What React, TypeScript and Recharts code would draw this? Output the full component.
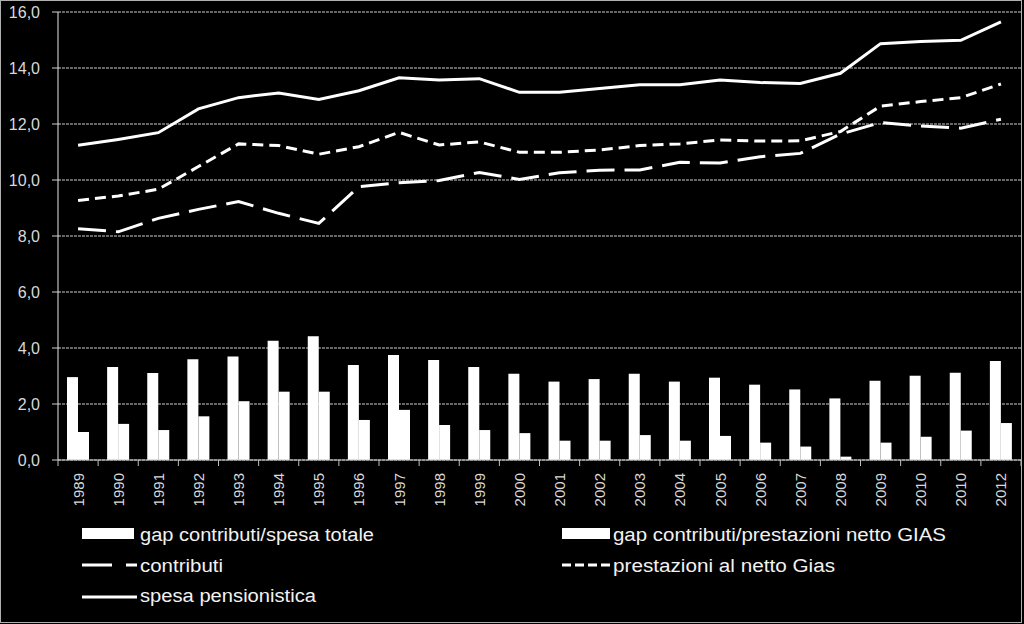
import React from "react";
import { ComposedChart, Bar, Line, XAxis, YAxis, CartesianGrid } from "recharts";

const years = ["1989","1990","1991","1992","1993","1994","1995","1996","1997","1998","1999","2000","2001","2002","2003","2004","2005","2006","2007","2008","2009","2010","2010","2012"];
const gapSpesa = [2.96,3.32,3.11,3.6,3.7,4.26,4.42,3.39,3.75,3.57,3.32,3.08,2.8,2.89,3.08,2.8,2.94,2.69,2.52,2.2,2.83,3.01,3.12,3.54];
const gapPrestazioni = [1.0,1.29,1.07,1.56,2.1,2.44,2.44,1.43,1.79,1.25,1.07,0.96,0.69,0.69,0.89,0.69,0.86,0.62,0.48,0.12,0.62,0.83,1.05,1.32];
const contributi = [8.26,8.15,8.63,8.95,9.23,8.81,8.45,9.76,9.9,9.98,10.27,10.02,10.26,10.35,10.36,10.63,10.61,10.83,10.95,11.64,12.05,11.93,11.85,12.17];
const prestazioni = [9.27,9.43,9.67,10.48,11.29,11.23,10.92,11.19,11.7,11.25,11.36,10.99,10.99,11.07,11.23,11.29,11.43,11.39,11.4,11.73,12.64,12.8,12.94,13.43];
const spesa = [11.24,11.45,11.69,12.54,12.94,13.11,12.88,13.19,13.65,13.57,13.62,13.13,13.13,13.27,13.4,13.4,13.57,13.48,13.45,13.81,14.87,14.95,14.99,15.65];
const yTicks = [0,2,4,6,8,10,12,14,16];

const data = years.map((y, i) => ({
  year: y,
  gapSpesa: gapSpesa[i],
  gapPrestazioni: gapPrestazioni[i],
  contributi: contributi[i],
  prestazioni: prestazioni[i],
  spesa: spesa[i],
}));

const PLOT_LEFT = 58;
const PLOT_RIGHT = 1021;
const BAND = (PLOT_RIGHT - PLOT_LEFT) / years.length;
const AXIS_FONT = "'Liberation Sans', Arial, sans-serif";
const LEG_FONT = "'Liberation Sans', Arial, sans-serif";

const XTick = (props: any) => {
  const { x, y, payload, index } = props;
  const axisY = y - 12;
  return (
    <g>
      <line x1={x - BAND / 2} x2={x - BAND / 2} y1={axisY} y2={axisY + 6} stroke="#bfbfbf" />
      {index === years.length - 1 && (
        <line x1={x + BAND / 2} x2={x + BAND / 2} y1={axisY} y2={axisY + 6} stroke="#bfbfbf" />
      )}
      <text
        transform={`translate(${x},${y + 1}) rotate(-90)`}
        textAnchor="end"
        dominantBaseline="central"
        fill="#d9d9d9"
        fontSize={15}
        fontFamily={AXIS_FONT}
      >
        {payload.value}
      </text>
    </g>
  );
};

const Legendo = () => (
  <svg width={1024} height={624} style={{ position: "absolute", left: 0, top: 0, pointerEvents: "none" }}>
    <rect x={0.5} y={0.5} width={1021} height={622} fill="none" stroke="#b0b0b0" />
    <rect x={82} y={528} width={52} height={11} fill="#ffffff" />
    <text x={140} y={541} fill="#f2f2f2" fontSize={18} fontFamily={LEG_FONT} textLength={234} lengthAdjust="spacingAndGlyphs">gap contributi/spesa totale</text>
    <rect x={562} y={528} width={48} height={11} fill="#ffffff" />
    <text x={613} y={541} fill="#f2f2f2" fontSize={18} fontFamily={LEG_FONT} textLength={333} lengthAdjust="spacingAndGlyphs">gap contributi/prestazioni netto GIAS</text>
    <line x1={82} x2={137} y1={565} y2={565} stroke="#ffffff" strokeWidth={3} strokeDasharray="30 14" />
    <text x={140} y={572} fill="#f2f2f2" fontSize={18} fontFamily={LEG_FONT} textLength={83} lengthAdjust="spacingAndGlyphs">contributi</text>
    <line x1={562} x2={611} y1={565} y2={565} stroke="#ffffff" strokeWidth={3} strokeDasharray="9 4" />
    <text x={613} y={572} fill="#f2f2f2" fontSize={18} fontFamily={LEG_FONT} textLength={222} lengthAdjust="spacingAndGlyphs">prestazioni al netto Gias</text>
    <line x1={82} x2={137} y1={597} y2={597} stroke="#ffffff" strokeWidth={3} />
    <text x={140} y={602} fill="#f2f2f2" fontSize={18} fontFamily={LEG_FONT} textLength={176} lengthAdjust="spacingAndGlyphs">spesa pensionistica</text>
  </svg>
);

export default function App() {
  return (
    <div style={{ position: "absolute", left: 0, top: 0, width: 1024, height: 624, background: "#000000" }}>
      <ComposedChart
        width={1024}
        height={624}
        data={data}
        margin={{ top: 12, right: 1024 - PLOT_RIGHT, bottom: 104, left: 0 }}
        barGap={0}
      >
        <CartesianGrid horizontal={true} vertical={false} stroke="#cfcfcf" strokeDasharray="3 1" />
        <XAxis
          dataKey="year"
          height={60}
          interval={0}
          tickSize={6}
          tickMargin={6}
          tickLine={false}
          axisLine={{ stroke: "#bfbfbf" }}
          tick={<XTick />}
        />
        <YAxis
          width={PLOT_LEFT}
          domain={[0, 16]}
          ticks={yTicks}
          interval={0}
          tickSize={6}
          tickMargin={12}
          tickLine={{ stroke: "#cfcfcf" }}
          axisLine={{ stroke: "#e6e6e6" }}
          tickFormatter={(v: number) => v.toFixed(1).replace(".", ",")}
          tick={{ fill: "#d9d9d9", fontSize: 16, fontFamily: AXIS_FONT }}
        />
        <Bar dataKey="gapSpesa" fill="#ffffff" barSize={11} isAnimationActive={false} />
        <Bar dataKey="gapPrestazioni" fill="#ffffff" barSize={11} isAnimationActive={false} />
        <Line type="linear" dataKey="contributi" stroke="#ffffff" strokeWidth={3} strokeDasharray="28 10" dot={false} isAnimationActive={false} />
        <Line type="linear" dataKey="prestazioni" stroke="#ffffff" strokeWidth={3} strokeDasharray="11 6" dot={false} isAnimationActive={false} />
        <Line type="linear" dataKey="spesa" stroke="#ffffff" strokeWidth={3} dot={false} isAnimationActive={false} />
      </ComposedChart>
      <Legendo />
    </div>
  );
}
